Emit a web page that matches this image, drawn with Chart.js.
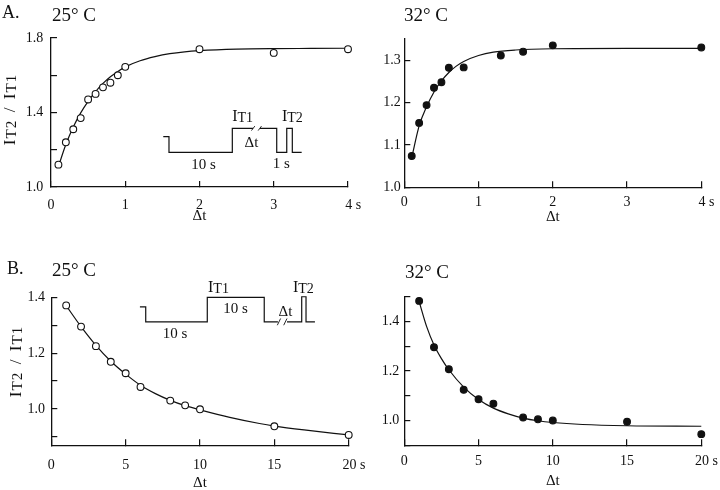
<!DOCTYPE html>
<html>
<head>
<meta charset="utf-8">
<script src="https://cdn.jsdelivr.net/npm/chart.js@4.4.1/dist/chart.umd.min.js"></script>
<style>
  body { margin: 0; background: #fff; }
  #fig { position: relative; width: 720px; height: 490px; overflow: hidden; background: #fff;
         font-family: "Liberation Serif", "Times New Roman", serif; color: #111; }
  .t { position: absolute; white-space: nowrap; }
  canvas { position: absolute; }
</style>
</head>
<body>
<div id="fig">
  <canvas id="cA25" width="375" height="250" style="left:0px;top:0px"></canvas>
  <canvas id="cA32" width="360" height="250" style="left:360px;top:0px"></canvas>
  <canvas id="cB25" width="375" height="250" style="left:0px;top:245px"></canvas>
  <canvas id="cB32" width="360" height="250" style="left:360px;top:245px"></canvas>

  <div class="t" style="left:2px;top:3px;font-size:18px;line-height:18px">A.</div>
  <div class="t" style="left:52px;top:5px;font-size:19px;line-height:19px">25° C</div>
  <div class="t" style="left:404px;top:5px;font-size:19px;line-height:19px">32° C</div>
  <div class="t" style="left:7px;top:259px;font-size:18px;line-height:18px">B.</div>
  <div class="t" style="left:52px;top:260px;font-size:19px;line-height:19px">25° C</div>
  <div class="t" style="left:405px;top:262px;font-size:19px;line-height:19px">32° C</div>
</div>
<script>
const FONT = '"Liberation Serif", "Times New Roman", serif';
const INK = '#111';

// A, 25 C : open circles + fitted curve
const a25X = [0.1, 0.2, 0.3, 0.4, 0.5, 0.6, 0.7, 0.8, 0.9, 1.0, 2, 3, 4];
const a25Y = [1.12, 1.24, 1.31, 1.37, 1.47, 1.50, 1.535, 1.56, 1.60, 1.645, 1.74, 1.72, 1.74];
const a25FitX = [0.1, 0.2, 0.3, 0.4, 0.5, 0.6, 0.7, 0.8, 0.9, 1.0, 1.2, 1.4, 1.6, 1.8, 2.0, 2.5, 3.0, 3.5, 4.0];
const a25FitY = [1.11, 1.228, 1.322, 1.398, 1.46, 1.512, 1.556, 1.592, 1.62, 1.645, 1.678, 1.70, 1.716, 1.726, 1.732, 1.74, 1.743, 1.744, 1.745];

// A, 32 C : filled circles + fitted curve
const a32X = [0.1, 0.2, 0.3, 0.4, 0.5, 0.6, 0.8, 1.3, 1.6, 2, 4];
const a32Y = [1.074, 1.152, 1.194, 1.235, 1.248, 1.282, 1.283, 1.311, 1.32, 1.335, 1.33];
const a32FitX = [0.1, 0.2, 0.3, 0.4, 0.5, 0.6, 0.7, 0.8, 1.0, 1.2, 1.5, 2.0, 3.0, 4.0];
const a32FitY = [1.07, 1.145, 1.19, 1.225, 1.251, 1.271, 1.286, 1.297, 1.311, 1.319, 1.324, 1.327, 1.328, 1.328];

// B, 25 C
const b25X = [1, 2, 3, 4, 5, 6, 8, 9, 10, 15, 20];
const b25Y = [1.371, 1.295, 1.225, 1.169, 1.128, 1.079, 1.03, 1.013, 0.999, 0.938, 0.907];
const b25FitX = [1, 2, 3, 4, 5, 6, 7, 8, 9, 10, 12, 14, 15, 17, 20];
const b25FitY = [1.37, 1.295, 1.228, 1.171, 1.125, 1.085, 1.055, 1.031, 1.012, 0.997, 0.970, 0.948, 0.939, 0.925, 0.907];

// B, 32 C
const b32X = [1, 2, 3, 4, 5, 6, 8, 9, 10, 15, 20];
const b32Y = [1.483, 1.296, 1.207, 1.124, 1.086, 1.068, 1.012, 1.005, 1.0, 0.995, 0.945];
const b32FitX = [1, 1.5, 2, 2.5, 3, 4, 5, 6, 7, 8, 9, 10, 12, 15, 20];
const b32FitY = [1.48, 1.38, 1.305, 1.25, 1.205, 1.135, 1.085, 1.05, 1.027, 1.01, 0.999, 0.992, 0.984, 0.979, 0.977];

// tick values
const xTicksA = [0, 1, 2, 3, 4];
const xTicksB = [0, 5, 10, 15, 20];
const yTicksA25 = [1.0, 1.2, 1.4, 1.6, 1.8];
const yLabelsA25 = [1.0, 1.4, 1.8];
const yTicksA32 = [1.0, 1.1, 1.2, 1.3];
const yTicksB25 = [0.9, 1.0, 1.1, 1.2, 1.3, 1.4];
const yTicksB32 = [0.9, 1.0, 1.1, 1.2, 1.3, 1.4, 1.5];
const yLabelsB = [1.0, 1.2, 1.4];

// pulse protocol insets (in the panel's data units)
const waveAX = [1.512, 1.589, 1.589, 2.442, 2.442, 2.72, 2.77, 2.815, 3.04, 3.04, 3.175, 3.175, 3.25, 3.25, 3.376];
const waveAY = [1.270, 1.270, 1.186, 1.186, 1.315, 1.315, null, 1.315, 1.315, 1.186, 1.186, 1.315, 1.315, 1.186, 1.186];
const breakAX = [2.70, 2.745, 2.77, 2.79, 2.835];
const breakAY = [1.303, 1.327, null, 1.303, 1.327];
const insetATxt = ['IT1', 'IT2', 'Δt', '10 s', '1 s'];
const insetAX = [2.44, 3.11, 2.70, 2.054, 3.10];
const insetAY = [1.354, 1.354, 1.215, 1.097, 1.102];
const insetAAlign = ['left', 'left', 'center', 'center', 'center'];

const waveBX = [5.96, 6.35, 6.35, 10.49, 10.49, 14.32, 14.32, 15.24, 15.5, 15.85, 16.84, 16.84, 17.13, 17.13, 17.73];
const waveBY = [1.366, 1.366, 1.312, 1.312, 1.40, 1.40, 1.312, 1.312, null, 1.312, 1.312, 1.402, 1.402, 1.312, 1.312];
const breakBX = [15.2, 15.42, 15.5, 15.63, 15.85];
const breakBY = [1.300, 1.324, null, 1.300, 1.324];
const insetBTxt = ['IT1', 'IT2', '10 s', '10 s', 'Δt'];
const insetBX = [10.54, 16.25, 12.39, 8.32, 15.75];
const insetBY = [1.42, 1.42, 1.342, 1.255, 1.334];
const insetBAlign = ['left', 'left', 'center', 'center', 'center'];

function pts(xs, ys) {
  return xs.map((x, i) => ({x: x, y: ys[i]}));
}

// draw text made of parts [text, size, dy, gap]
function mixed(ctx, x, y, parts, align) {
  let w = 0;
  parts.forEach(p => {
    ctx.font = p[1] + 'px ' + FONT;
    w += ctx.measureText(p[0]).width + (p[3] || 0);
  });
  let cx = align === 'center' ? x - w / 2 : x;
  ctx.textAlign = 'left';
  ctx.textBaseline = 'alphabetic';
  ctx.fillStyle = INK;
  parts.forEach(p => {
    ctx.font = p[1] + 'px ' + FONT;
    ctx.fillText(p[0], cx, y + (p[2] || 0));
    cx += ctx.measureText(p[0]).width + (p[3] || 0);
  });
}

function textParts(s) {
  const m = /^I(T\d)$/.exec(s);
  if (m) return [['I', 16, 0, 0], [m[1], 14, 1, 0]];
  return [[s, 15, 0, 0]];
}

const yLabParts = [['I', 17, 0, 1], ['T', 15, 1, 1], ['2', 15, 1, 0], ['  /  ', 17, 0, 0],
                   ['I', 17, 0, 1], ['T', 15, 1, 1], ['1', 15, 1, 0]];

function near(list, v) {
  return list.some(l => Math.abs(l - v) < 1e-6);
}

function panel(id, cfg) {
  const canvas = document.getElementById(id);
  const w = canvas.width, h = canvas.height;
  const area = cfg.area; // left, top, right, bottom inside the canvas

  const annot = {
    id: 'annot',
    afterDraw(chart) {
      const ctx = chart.ctx;
      const sx = chart.scales.x, sy = chart.scales.y;
      ctx.save();
      // rotated y title
      ctx.translate(cfg.yTitle[0], cfg.yTitle[1]);
      ctx.rotate(-Math.PI / 2);
      mixed(ctx, 0, 0, yLabParts, 'center');
      ctx.restore();
      if (cfg.insetTxt) {
        ctx.save();
        cfg.insetTxt.forEach((s, i) => {
          mixed(ctx, sx.getPixelForValue(cfg.insetX[i]), sy.getPixelForValue(cfg.insetY[i]),
                textParts(s), cfg.insetAlign[i]);
        });
        ctx.restore();
      }
    }
  };

  const datasets = [
    {
      data: pts(cfg.px, cfg.py),
      pointRadius: 3.4,
      pointBackgroundColor: cfg.open ? '#fff' : INK,
      pointBorderColor: INK,
      pointBorderWidth: 1.1,
      clip: false,
      order: 0
    },
    {
      data: pts(cfg.fx, cfg.fy),
      showLine: true,
      borderColor: INK,
      borderWidth: 1.2,
      pointRadius: 0,
      cubicInterpolationMode: 'monotone',
      clip: false,
      order: 1
    }
  ];
  if (cfg.waveX) {
    datasets.push({
      data: pts(cfg.waveX, cfg.waveY),
      showLine: true, spanGaps: false,
      borderColor: INK, borderWidth: 1.2,
      pointRadius: 0, tension: 0, clip: false, order: 2
    });
    datasets.push({
      data: pts(cfg.breakX, cfg.breakY),
      showLine: true, spanGaps: false,
      borderColor: INK, borderWidth: 0.9,
      pointRadius: 0, tension: 0, clip: false, order: 2
    });
  }

  const tickFont = {family: FONT, size: 14};
  const lastX = cfg.xTicks[cfg.xTicks.length - 1];

  new Chart(canvas, {
    type: 'scatter',
    data: {datasets: datasets},
    options: {
      responsive: false,
      animation: false,
      events: [],
      layout: {padding: {left: 0, top: area[1], right: w - area[2], bottom: 0}},
      plugins: {legend: {display: false}, tooltip: {enabled: false}},
      scales: {
        x: {
          type: 'linear',
          min: cfg.xTicks[0],
          max: lastX,
          afterBuildTicks(s) { s.ticks = cfg.xTicks.map(v => ({value: v})); },
          afterFit(s) {
            s.height = h - area[3];
            s.paddingLeft = 0; s.paddingRight = 0;
          },
          ticks: {
            color: INK, font: tickFont, autoSkip: false, maxRotation: 0,
            padding: cfg.xPad,
            callback: v => v === lastX ? '   ' + v + ' s' : String(v)
          },
          grid: {drawOnChartArea: false, drawTicks: true, tickLength: -6, color: INK, lineWidth: 1.2},
          border: {display: true, color: INK, width: 1.3},
          title: {display: true, text: 'Δt', color: INK, font: {family: FONT, size: 15},
                  padding: {top: 0, bottom: cfg.titlePad}}
        },
        y: {
          type: 'linear',
          min: cfg.yMin,
          max: cfg.yMax,
          afterBuildTicks(s) { s.ticks = cfg.yTicks.map(v => ({value: v})); },
          afterFit(s) {
            s.width = area[0];
            s.paddingTop = 0; s.paddingBottom = 0;
          },
          ticks: {
            color: INK, font: tickFont, padding: cfg.yPad,
            callback: v => near(cfg.yLabels, v) ? v.toFixed(1) : ''
          },
          grid: {drawOnChartArea: false, drawTicks: true, tickLength: -6, color: INK, lineWidth: 1.2},
          border: {display: true, color: INK, width: 1.3}
        }
      }
    },
    plugins: [annot]
  });
}

panel('cA25', {
  area: [51, 38, 348, 187],
  px: a25X, py: a25Y, fx: a25FitX, fy: a25FitY, open: true,
  xTicks: xTicksA, yTicks: yTicksA25, yLabels: yLabelsA25, yMin: 1.0, yMax: 1.8,
  xPad: 16, yPad: 13.7, titlePad: 25, yTitle: [15, 110],
  waveX: waveAX, waveY: waveAY, breakX: breakAX, breakY: breakAY,
  insetTxt: insetATxt, insetX: insetAX, insetY: insetAY, insetAlign: insetAAlign
});

panel('cA32', {
  area: [44.3, 39, 341.3, 187.3],
  px: a32X, py: a32Y, fx: a32FitX, fy: a32FitY, open: false,
  xTicks: xTicksA, yTicks: yTicksA32, yLabels: yTicksA32, yMin: 1.0, yMax: 1.35,
  xPad: 12.5, yPad: 9.6, titlePad: 23.5, yTitle: [-100, -100]
});

panel('cB25', {
  area: [51.3, 52.3, 348.7, 200.3],
  px: b25X, py: b25Y, fx: b25FitX, fy: b25FitY, open: true,
  xTicks: xTicksB, yTicks: yTicksB25, yLabels: yLabelsB, yMin: 0.87, yMax: 1.4,
  xPad: 18, yPad: 12.3, titlePad: 3, yTitle: [20.5, 117],
  waveX: waveBX, waveY: waveBY, breakX: breakBX, breakY: breakBY,
  insetTxt: insetBTxt, insetX: insetBX, insetY: insetBY, insetAlign: insetBAlign
});

panel('cB32', {
  area: [44.3, 51.7, 341.3, 200.3],
  px: b32X, py: b32Y, fx: b32FitX, fy: b32FitY, open: false,
  xTicks: xTicksB, yTicks: yTicksB32, yLabels: yLabelsB, yMin: 0.9, yMax: 1.5,
  xPad: 13.6, yPad: 11, titlePad: 5, yTitle: [-100, -100]
});
</script>
</body>
</html>
